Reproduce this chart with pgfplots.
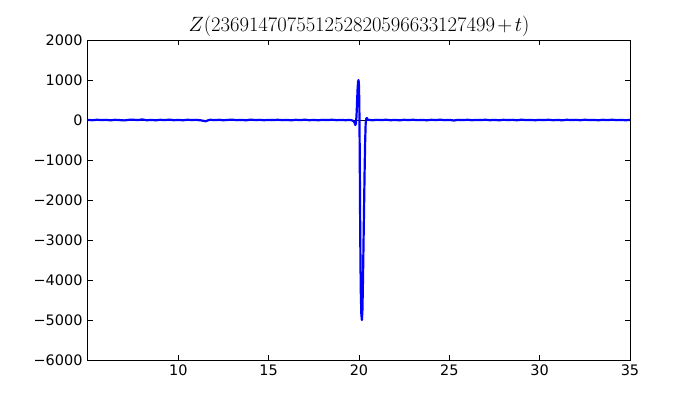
\documentclass[border=0pt]{standalone}
\usepackage{graphicx}
\usepackage{pgfplots}
\pgfplotsset{compat=1.18}
\usepackage{fontspec}
\setmainfont{DejaVu Sans}
\begin{document}
\begin{tikzpicture}
\path (-88bp,-40bp) rectangle (612bp,360bp);
\begin{axis}[
  at={(0,0)}, anchor=south west,
  scale only axis, width=542bp, height=320bp,
  xmin=5, xmax=35, ymin=-6000, ymax=2000,
  xtick={10,15,20,25,30,35},
  xticklabels={10,15,20,25,30,35},
  ytick={-6000,-5000,-4000,-3000,-2000,-1000,0,1000,2000},
  yticklabels={−6000,−5000,−4000,−3000,−2000,−1000,0,1000,2000},
  tick align=inside,
  major tick length=5bp,
  tick style={black, line width=0.8bp},
  axis line style={black, line width=1bp},
  ticklabel style={font=\fontsize{14.5}{17}\selectfont},
  xticklabel style={yshift=-1bp},
  yticklabel style={xshift=-2bp},
  title={\scalebox{1.2}{$Z(236914707551252820596633127499\mkern2mu{+}\mkern2mu t)$}},
  title style={font=\fontsize{17.28}{20}\selectfont, yshift=-6bp},
  scaled y ticks=false,
  clip=true,
]
\addplot[black, line width=0.8bp, forget plot] coordinates {(5,0) (35,0)};
\addplot[blue, line width=2.2bp, line join=round] table {
x y
5.00 2
5.25 -5
5.50 6
5.75 -3
6.00 4
6.25 -8
6.50 5
6.75 -2
7.00 -10
7.25 4
7.50 7
7.75 -3
8.00 15
8.25 -6
8.50 2
8.75 -7
9.00 5
9.25 -3
9.50 9
9.75 -5
10.00 3
10.25 -7
10.50 6
10.75 -1
11.00 4
11.25 -9
11.50 -30
11.75 6
12.00 -3
12.25 5
12.50 -6
12.75 3
13.00 7
13.25 -4
13.50 2
13.75 -8
14.00 10
14.25 -2
14.50 4
14.75 -5
15.00 3
15.25 -2
15.50 6
15.75 -4
16.00 2
16.25 -7
16.50 5
16.75 -3
17.00 8
17.25 -5
17.50 1
17.75 -6
18.00 4
18.25 -2
18.50 7
18.75 -4
19.00 3
19.25 -5
19.50 3
19.60 -8
19.70 -25
19.75 -60
19.78 -100
19.80 -125
19.83 -80
19.86 80
19.89 400
19.92 760
19.95 960
19.975 1000
20.00 850
20.02 300
20.04 -800
20.06 -2300
20.08 -3500
20.10 -4300
20.13 -4850
20.16 -5000
20.19 -4750
20.22 -4000
20.25 -3100
20.28 -2200
20.31 -1300
20.34 -550
20.37 -80
20.40 30
20.43 50
20.46 30
20.50 5
20.75 -6
21.00 4
21.25 -3
21.50 7
21.75 -5
22.00 2
22.25 -8
22.50 5
22.75 -2
23.00 6
23.25 -4
23.50 3
23.75 -7
24.00 5
24.25 -2
24.50 8
24.75 -4
25.00 2
25.25 -12
25.50 4
25.75 -3
26.00 6
26.25 -5
26.50 3
26.75 -2
27.00 7
27.25 -5
27.50 3
27.75 -7
28.00 5
28.25 -1
28.50 4
28.75 -6
29.00 8
29.25 -3
29.50 2
29.75 -6
30.00 4
30.25 -2
30.50 6
30.75 -5
31.00 3
31.25 -8
31.50 6
31.75 -2
32.00 4
32.25 -5
32.50 7
32.75 -3
33.00 2
33.25 -6
33.50 5
33.75 -3
34.00 7
34.25 -4
34.50 3
34.75 -6
35.00 2
};
\end{axis}
\end{tikzpicture}
\end{document}
